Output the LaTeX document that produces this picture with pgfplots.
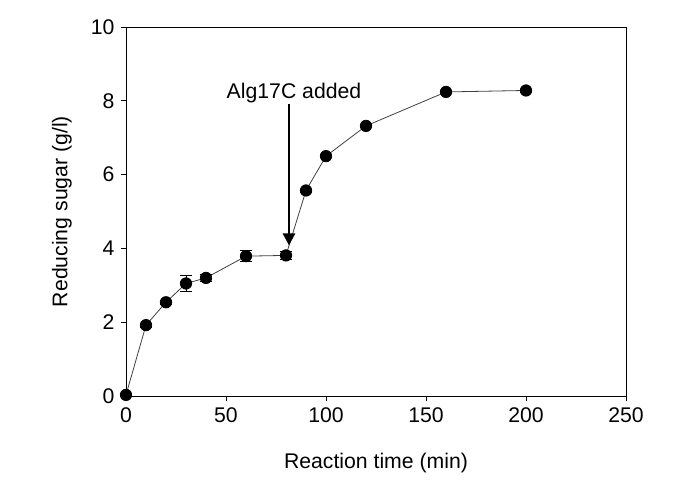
\documentclass[border=0pt]{standalone}
\usepackage{fontspec}
\setmainfont{Liberation Sans}
\usepackage{pgfplots}
\pgfplotsset{compat=1.18}
\usetikzlibrary{arrows.meta}
\begin{document}
\begin{tikzpicture}
  \begin{axis}[
      scale only axis,
      width=500bp, height=369bp,
      xmin=0, xmax=250, ymin=0, ymax=10,
      xtick={0,50,...,250}, ytick={0,2,...,10},
      xtick pos=left, ytick pos=left,
      tick align=outside, major tick length=5bp,
      axis line style={line width=0.8bp},
      every tick/.style={black, line width=0.8bp},
      /pgf/number format/assume math mode=true,
      ticklabel style={font=\fontsize{21.3}{25}\selectfont},
      xticklabel style={yshift=-3bp},
      yticklabel style={xshift=-3bp},
      label style={font=\fontsize{21.3}{25}\selectfont},
      xlabel={Reaction time (min)},
      ylabel={Reducing sugar (g/l)},
      xlabel style={at={(axis description cs:0.5,-0.182)}, anchor=center},
      ylabel style={at={(axis description cs:-0.128,0.5)}, anchor=center},
      clip=false,
    ]
    \addplot[draw=black!75, line width=0.8bp,
             mark=*, mark size=5.7bp, mark options={fill=black, draw=black},
             error bars/.cd, y dir=both, y explicit,
             error bar style={black, line width=0.8bp},
             error mark options={rotate=90, mark size=6bp, line width=0.8bp, black}]
      coordinates {
        (0,0.03) +- (0,0.02)
        (10,1.92) +- (0,0.05)
        (20,2.54) +- (0,0.06)
        (30,3.05) +- (0,0.21)
        (40,3.20) +- (0,0.10)
        (60,3.79) +- (0,0.15)
        (80,3.81) +- (0,0.10)
        (90,5.57) +- (0,0.04)
        (100,6.50) +- (0,0.04)
        (120,7.32) +- (0,0.04)
        (160,8.24) +- (0,0.03)
        (200,8.28) +- (0,0.04)
      };
    \draw[line width=2.5bp, -{Triangle[width=12bp,length=12bp]}]
      (axis cs:81.5,7.9) -- (axis cs:81.5,4.08);
    \node[anchor=base, inner sep=0pt, font=\fontsize{21.3}{25}\selectfont]
      at (axis cs:84,8.07) {Alg17C added};
  \end{axis}
  \path (-126bp,-105bp) rectangle (548bp,396bp);
\end{tikzpicture}
\end{document}
